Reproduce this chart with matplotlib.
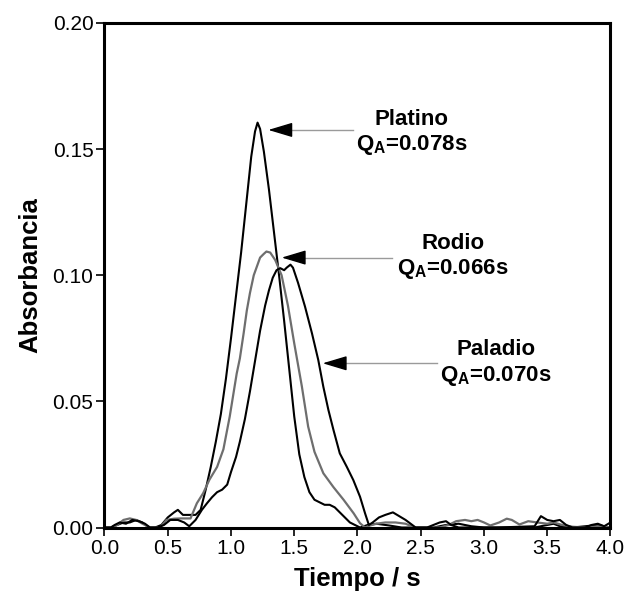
import numpy as np
import matplotlib
matplotlib.use("Agg")
import matplotlib.pyplot as plt

plt.rcParams['font.family'] = ['Liberation Sans', 'DejaVu Sans']
plt.rcParams['mathtext.fontset'] = 'custom'
plt.rcParams['mathtext.rm'] = 'Liberation Sans:bold'
plt.rcParams['mathtext.bf'] = 'Liberation Sans:bold'

# Platino (black, tallest)
t_pt = [0.00, 0.05, 0.10, 0.15, 0.20, 0.25, 0.30, 0.35, 0.40, 0.45, 0.50, 0.55, 0.58,
        0.62, 0.68, 0.72, 0.76, 0.80, 0.84, 0.88, 0.92, 0.96, 1.00, 1.04, 1.08, 1.12,
        1.16, 1.19, 1.21, 1.23, 1.26, 1.30, 1.34, 1.38, 1.42, 1.46, 1.50, 1.54, 1.58,
        1.62, 1.66, 1.70, 1.74, 1.78, 1.82, 1.86, 1.90, 1.94, 1.98, 2.02, 2.08, 2.15,
        2.25, 2.35, 2.45, 2.60, 2.70, 2.80, 2.90, 3.00, 3.20, 3.40, 3.50, 3.55, 3.60,
        3.70, 3.80, 3.90, 4.00]
a_pt = [0.000, 0.000, 0.001, 0.002, 0.002, 0.003, 0.002, 0.000, 0.000, 0.001, 0.004,
        0.006, 0.007, 0.005, 0.005, 0.005, 0.007, 0.015, 0.024, 0.034, 0.045, 0.059,
        0.075, 0.092, 0.109, 0.128, 0.147, 0.157, 0.1605, 0.158, 0.149, 0.134, 0.117,
        0.100, 0.082, 0.063, 0.044, 0.029, 0.020, 0.014, 0.011, 0.010, 0.009, 0.009,
        0.008, 0.006, 0.004, 0.002, 0.001, 0.000, 0.001, 0.0015, 0.0008, 0.000, 0.000,
        0.000, 0.001, 0.0015, 0.0005, 0.000, 0.000, 0.000, 0.001, 0.0015, 0.0005,
        0.000, 0.0005, 0.001, 0.000]

# Rodio (grey)
t_rh = [0.00, 0.05, 0.10, 0.15, 0.20, 0.25, 0.30, 0.36, 0.44, 0.49, 0.55, 0.60, 0.68,
        0.73, 0.78, 0.83, 0.89, 0.94, 0.99, 1.045, 1.07, 1.10, 1.125, 1.15, 1.18, 1.23,
        1.26, 1.28, 1.31, 1.35, 1.40, 1.45, 1.50, 1.56, 1.61, 1.66, 1.73, 1.81, 1.89,
        1.97, 2.02, 2.06, 2.10, 2.15, 2.22, 2.30, 2.38, 2.45, 2.55, 2.65, 2.72, 2.78,
        2.85, 2.90, 2.95, 3.00, 3.05, 3.12, 3.18, 3.22, 3.28, 3.35, 3.42, 3.50, 3.55,
        3.62, 3.70, 3.80, 3.90, 4.00]
a_rh = [0.000, 0.000, 0.001, 0.003, 0.0036, 0.003, 0.0015, 0.000, 0.000, 0.003, 0.0035,
        0.0036, 0.0036, 0.0096, 0.0136, 0.019, 0.024, 0.031, 0.044, 0.061, 0.067, 0.077,
        0.086, 0.093, 0.100, 0.107, 0.1085, 0.1094, 0.109, 0.106, 0.100, 0.088, 0.073,
        0.056, 0.040, 0.030, 0.0215, 0.016, 0.011, 0.0056, 0.0017, 0.000, 0.0008,
        0.0015, 0.002, 0.002, 0.0015, 0.000, 0.000, 0.000, 0.001, 0.0025, 0.003, 0.0025,
        0.003, 0.002, 0.0008, 0.002, 0.0035, 0.003, 0.0012, 0.0025, 0.002, 0.0015,
        0.002, 0.001, 0.0003, 0.000, 0.0005, 0.000]

# Paladio (black, broadest)
t_pd = [0.00, 0.05, 0.08, 0.12, 0.17, 0.22, 0.27, 0.32, 0.36, 0.42, 0.47, 0.52, 0.58,
        0.63, 0.67, 0.72, 0.77, 0.81, 0.85, 0.89, 0.93, 0.97, 1.00, 1.04, 1.07, 1.11,
        1.15, 1.19, 1.23, 1.27, 1.30, 1.33, 1.36, 1.39, 1.42, 1.44, 1.47, 1.49, 1.53,
        1.585, 1.64, 1.69, 1.73, 1.77, 1.81, 1.86, 1.915, 1.967, 2.02, 2.06, 2.09, 2.12,
        2.17, 2.22, 2.28, 2.33, 2.38, 2.42, 2.46, 2.55, 2.60, 2.65, 2.70, 2.74, 2.80,
        2.90, 3.00, 3.10, 3.40, 3.45, 3.50, 3.55, 3.60, 3.65, 3.70, 3.80, 3.85, 3.90,
        3.95, 4.00]
a_pd = [0.000, 0.000, 0.001, 0.002, 0.0015, 0.003, 0.0025, 0.0015, 0.000, 0.000, 0.001,
        0.003, 0.003, 0.002, 0.0005, 0.003, 0.007, 0.0096, 0.012, 0.014, 0.015, 0.017,
        0.022, 0.028, 0.034, 0.043, 0.054, 0.066, 0.078, 0.088, 0.094, 0.099, 0.102,
        0.1028, 0.102, 0.103, 0.1042, 0.103, 0.097, 0.0876, 0.077, 0.0664, 0.0558,
        0.0466, 0.0387, 0.0294, 0.0241, 0.0188, 0.0122, 0.0056, 0.001, 0.002, 0.004,
        0.005, 0.006, 0.0045, 0.003, 0.0015, 0.000, 0.000, 0.001, 0.002, 0.0025, 0.001,
        0.000, 0.000, 0.000, 0.000, 0.0005, 0.0045, 0.003, 0.0025, 0.003, 0.001, 0.000,
        0.000, 0.001, 0.0015, 0.0005, 0.002]

# annotations: label, Q_A value, arrow tip, arrow tail, text centre
names = ['Platino', 'Rodio', 'Paladio']
qa = ['0.078', '0.066', '0.070']
tips = [(1.295, 0.1576), (1.401, 0.107), (1.725, 0.0651)]
tails = [1.967, 2.270, 2.626]
txt_pos = [(2.43, 0.1565), (2.755, 0.1072), (3.095, 0.065)]

fig = plt.figure(figsize=(6.28, 5.97), dpi=100)
ax = fig.add_axes([0.1664, 0.1164, 0.8057, 0.8451])

ax.plot(t_pt, a_pt, color='black', lw=1.5)
ax.plot(t_rh, a_rh, color='#6e6e6e', lw=1.6)
ax.plot(t_pd, a_pd, color='black', lw=1.5)

for name, q, tip, tail, pos in zip(names, qa, tips, tails, txt_pos):
    ax.plot([tip[0] + 0.1, tail], [tip[1], tip[1]], color='#9a9a9a', lw=1)
    ax.annotate('', xy=tip, xytext=(16, 0), textcoords='offset points',
                arrowprops=dict(arrowstyle='-|>,head_length=1.5,head_width=0.45',
                                color='black', lw=1, shrinkA=0, shrinkB=0,
                                mutation_scale=10))
    ax.text(pos[0], pos[1], name + '\n' + r'Q$_\mathrm{A}$=' + q + 's',
            ha='center', va='center', fontsize=16, fontweight='bold',
            linespacing=1.2)

ax.set_xlim(0, 4)
ax.set_ylim(0, 0.2)
ax.set_xticks(np.arange(0, 4.01, 0.5))
ax.set_yticks(np.arange(0, 0.201, 0.05))
ax.set_xticklabels([f'{v:.1f}' for v in np.arange(0, 4.01, 0.5)])
ax.set_yticklabels([f'{v:.2f}' for v in np.arange(0, 0.201, 0.05)])
ax.tick_params(direction='out', length=6, width=1.2, labelsize=15, pad=2)
for s in ax.spines.values():
    s.set_linewidth(2.2)

ax.set_xlabel('Tiempo / s', fontsize=18.5, fontweight='bold', labelpad=7)
ax.set_ylabel('Absorbancia', fontsize=18.5, fontweight='bold', labelpad=7)

fig.savefig('out.png', dpi=100)
